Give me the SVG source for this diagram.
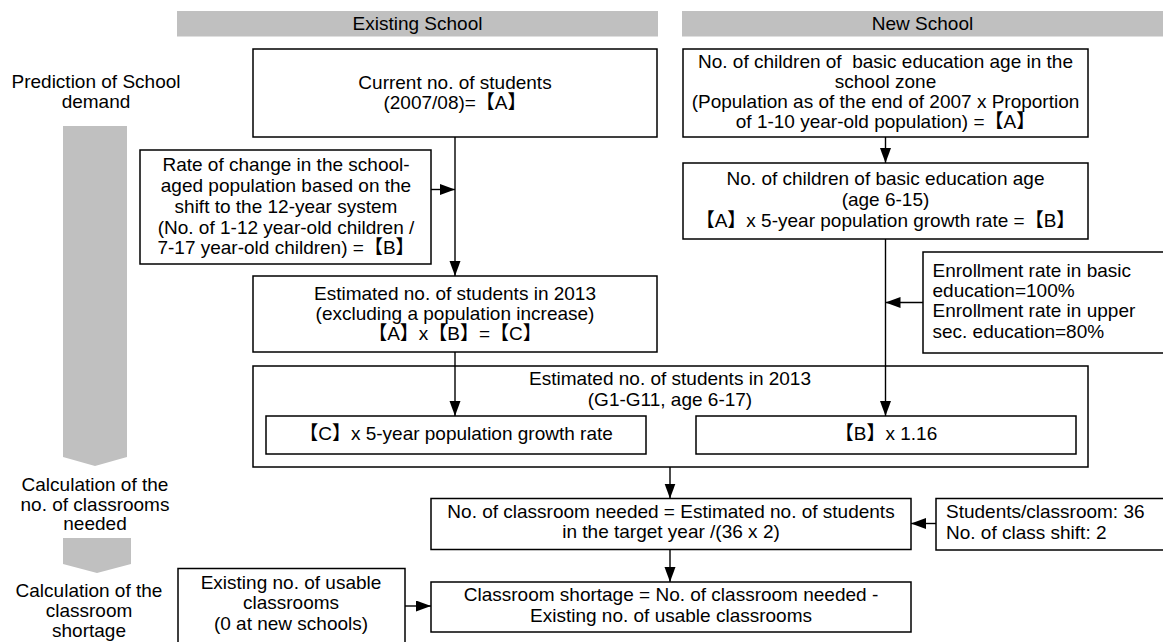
<svg xmlns="http://www.w3.org/2000/svg" width="1163" height="642" viewBox="0 0 1163 642">
<style>
text{font-family:"Liberation Sans",Arial,"Noto Sans CJK JP",sans-serif;font-size:19px;fill:#000}
.c{text-anchor:middle}
.box{fill:#fff;stroke:#000;stroke-width:1.5}
.bar{fill:#c0c0c0}
.ln{fill:none;stroke:#000;stroke-width:1.4}
</style>
<defs>
<marker id="ah" markerUnits="userSpaceOnUse" markerWidth="16" markerHeight="12" refX="15" refY="5.5" orient="auto">
<path d="M0,0 L15,5.5 L0,11 Z" fill="#000"/>
</marker>
</defs>
<rect width="1163" height="642" fill="#fff"/>

<g id="headers">
<rect class="bar" x="177" y="11" width="481" height="25.5"/>
<text class="c" x="417.5" y="29.5">Existing School</text>
<rect class="bar" x="682" y="11" width="481" height="25.5"/>
<text class="c" x="922.5" y="29.5">New School</text>
</g>

<g id="stages">
<polygon class="bar" points="63,126 127,126 127,457 95,466 63,457"/>
<polygon class="bar" points="63,538 131,538 131,564 97,573 63,564"/>
<text class="c" x="96" y="88">Prediction of School</text>
<text class="c" x="96" y="108">demand</text>
<text class="c" x="95" y="490.5">Calculation of the</text>
<text class="c" x="95" y="510.5">no. of classrooms</text>
<text class="c" x="95" y="530">needed</text>
<text class="c" x="89" y="597">Calculation of the</text>
<text class="c" x="89" y="617">classroom</text>
<text class="c" x="89" y="637">shortage</text>
</g>

<g id="current">
<rect class="box" x="253" y="49" width="404" height="88"/>
<text class="c" x="455" y="88.5">Current no. of students</text>
<text class="c" x="455" y="108.5">(2007/08)=【A】</text>
</g>

<g id="rate">
<rect class="box" x="140" y="150" width="291" height="114"/>
<text class="c" x="286" y="170.5">Rate of change in the school-</text>
<text class="c" x="286" y="191.5">aged population based on the</text>
<text class="c" x="286" y="212.5">shift to the 12-year system</text>
<text class="c" x="286" y="233.5">(No. of 1-12 year-old children /</text>
<text class="c" x="286" y="254">7-17 year-old children) =【B】</text>
</g>

<g id="est2013ex">
<rect class="box" x="253" y="276" width="404" height="76"/>
<text class="c" x="455" y="300">Estimated no. of students in 2013</text>
<text class="c" x="455" y="320">(excluding a population increase)</text>
<text class="c" x="455" y="340">【A】x【B】=【C】</text>
</g>

<g id="est2013">
<rect class="box" x="253" y="366" width="835" height="101"/>
<text class="c" x="670" y="385">Estimated no. of students in 2013</text>
<text class="c" x="670" y="406">(G1-G11, age 6-17)</text>
</g>

<g id="growthC">
<rect class="box" x="266" y="416" width="380" height="38"/>
<text class="c" x="456" y="440">【C】x 5-year population growth rate</text>
</g>

<g id="growthB">
<rect class="box" x="696" y="416" width="380" height="38"/>
<text class="c" x="886" y="440">【B】x 1.16</text>
</g>

<g id="children">
<rect class="box" x="683" y="49" width="405" height="88"/>
<text class="c" x="885.5" y="67.5" xml:space="preserve">No. of children of  basic education age in the</text>
<text class="c" x="885.5" y="87.5">school zone</text>
<text class="c" x="885.5" y="107.5">(Population as of the end of 2007 x Proportion</text>
<text class="c" x="885.5" y="127.5">of 1-10 year-old population) =【A】</text>
</g>

<g id="basicage">
<rect class="box" x="683" y="163" width="405" height="76"/>
<text class="c" x="885.5" y="185">No. of children of basic education age</text>
<text class="c" x="885.5" y="206">(age 6-15)</text>
<text class="c" x="885.5" y="227">【A】x 5-year population growth rate =【B】</text>
</g>

<g id="enrollment">
<rect class="box" x="923" y="252" width="260" height="101"/>
<text x="932.5" y="276.5">Enrollment rate in basic</text>
<text x="932.5" y="297">education=100%</text>
<text x="932.5" y="317">Enrollment rate in upper</text>
<text x="932.5" y="337.5">sec. education=80%</text>
</g>

<g id="needed">
<rect class="box" x="431" y="498.5" width="480" height="51"/>
<text class="c" x="671" y="518">No. of classroom needed = Estimated no. of students</text>
<text class="c" x="671" y="538">in the target year /(36 x 2)</text>
</g>

<g id="students">
<rect class="box" x="936" y="498.5" width="240" height="51.5"/>
<text x="946" y="518">Students/classroom: 36</text>
<text x="946" y="539">No. of class shift: 2</text>
</g>

<g id="shortage">
<rect class="box" x="431" y="582" width="480" height="50"/>
<text class="c" x="671" y="601">Classroom shortage = No. of classroom needed -</text>
<text class="c" x="671" y="622">Existing no. of usable classrooms</text>
</g>

<g id="usable">
<rect class="box" x="178" y="568.5" width="227" height="90"/>
<text class="c" x="291" y="588.5">Existing no. of usable</text>
<text class="c" x="291" y="609">classrooms</text>
<text class="c" x="291" y="629.5">(0 at new schools)</text>
</g>

<g id="connectors">
<line class="ln" x1="455" y1="137" x2="455" y2="276" marker-end="url(#ah)"/>
<line class="ln" x1="431" y1="189.5" x2="455" y2="189.5" marker-end="url(#ah)"/>
<line class="ln" x1="455" y1="352" x2="455" y2="416" marker-end="url(#ah)"/>
<line class="ln" x1="885.5" y1="137" x2="885.5" y2="163" marker-end="url(#ah)"/>
<line class="ln" x1="885.5" y1="239" x2="885.5" y2="416" marker-end="url(#ah)"/>
<line class="ln" x1="923" y1="302.5" x2="885.5" y2="302.5" marker-end="url(#ah)"/>
<line class="ln" x1="670" y1="467" x2="670" y2="498.5" marker-end="url(#ah)"/>
<line class="ln" x1="936" y1="523.5" x2="911" y2="523.5" marker-end="url(#ah)"/>
<line class="ln" x1="670" y1="549.5" x2="670" y2="582" marker-end="url(#ah)"/>
<line class="ln" x1="405" y1="606" x2="431" y2="606" marker-end="url(#ah)"/>
</g>
</svg>
